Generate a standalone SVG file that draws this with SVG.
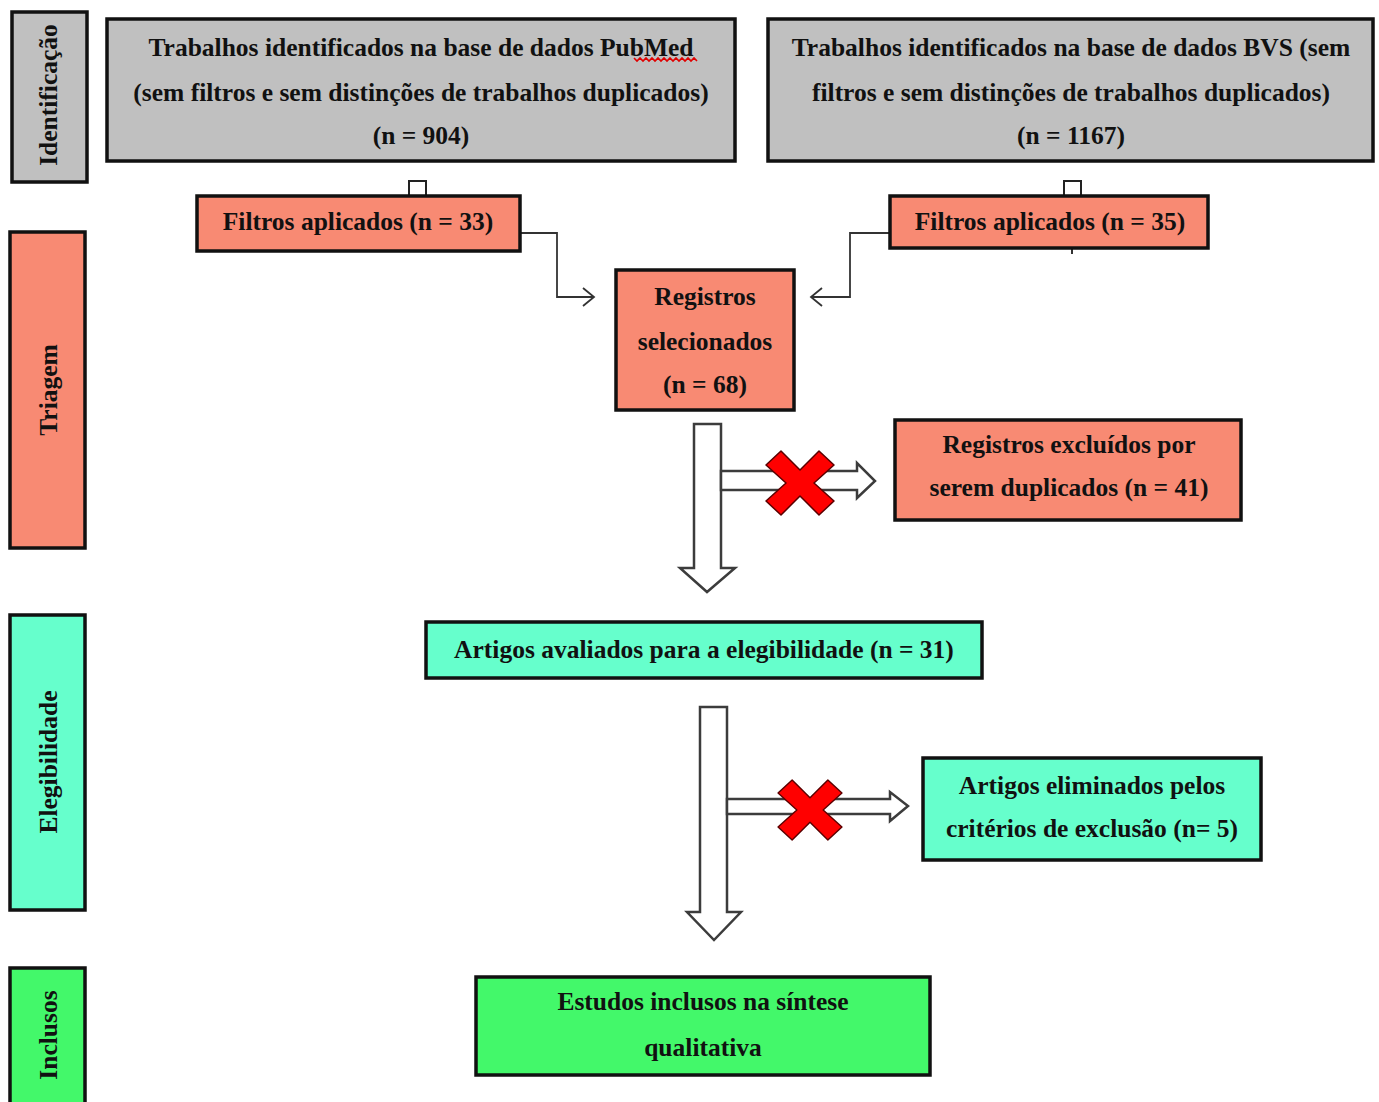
<svg xmlns="http://www.w3.org/2000/svg" width="1379" height="1102" viewBox="0 0 1379 1102">
<style>
.t{font-family:"Liberation Serif","Times New Roman",serif;font-weight:bold;font-size:25.5px;fill:#111;text-anchor:middle}
.box{stroke:#111;stroke-width:3.5}
.gray{fill:#c0c0c0}
.sal{fill:#f88a73}
.aqua{fill:#66ffcc}
.grn{fill:#43f86a}
.hollow{fill:#fff;stroke:#3c3c3c;stroke-width:2.5;stroke-linejoin:miter}
.thin{fill:none;stroke:#333;stroke-width:1.8}
.xm{fill:#ff0000;stroke:#5a0000;stroke-width:1.5;stroke-linejoin:round}
</style>
<defs>
<path id="xmark" d="M-34,-18 L-19,-32 L0,-13 L19,-32 L34,-18 L14,0 L34,18 L19,32 L0,13 L-19,32 L-34,18 L-14,0 Z"/>
</defs>
<rect width="1379" height="1102" fill="#fff"/>

<g id="stage-identificacao">
<rect class="box gray" x="12" y="12" width="75" height="170"/>
<text class="t" transform="translate(57,95) rotate(-90)">Identificação</text>
</g>
<g id="stage-triagem">
<rect class="box sal" x="10" y="232" width="75" height="316"/>
<text class="t" transform="translate(57,390) rotate(-90)">Triagem</text>
</g>
<g id="stage-elegibilidade">
<rect class="box aqua" x="10" y="615" width="75" height="295"/>
<text class="t" transform="translate(57,762) rotate(-90)">Elegibilidade</text>
</g>
<g id="stage-inclusos">
<rect class="box grn" x="10" y="968" width="75" height="150"/>
<text class="t" transform="translate(57,1035) rotate(-90)">Inclusos</text>
</g>

<g id="connectors">
<rect x="409" y="181" width="17" height="16" fill="#fff" stroke="#222" stroke-width="2"/>
<rect x="1064" y="181" width="17" height="16" fill="#fff" stroke="#222" stroke-width="2"/>
<line x1="1072" y1="248" x2="1072" y2="254" stroke="#333" stroke-width="2"/>
<polyline class="thin" points="520,233 557,233 557,297 594,297"/>
<polyline class="thin" points="583,288 594,297 583,306"/>
<polyline class="thin" points="890,233 850,233 850,297 811,297"/>
<polyline class="thin" points="822,288 811,297 822,306"/>
<path class="hollow" d="M694,424 L721,424 L721,568 L735,568 L707,592 L680,568 L694,568 Z"/>
<path class="hollow" d="M721,471 L857,471 L857,463 L875,481 L857,498 L857,490 L721,490 Z"/>
<use href="#xmark" class="xm" transform="translate(800,483)"/>
<path class="hollow" d="M700,707 L727,707 L727,912 L741,912 L714,940 L687,912 L700,912 Z"/>
<path class="hollow" d="M727,799 L890,799 L890,792 L908,806 L890,821 L890,814 L727,814 Z"/>
<use href="#xmark" class="xm" transform="translate(810,810) scale(0.94)"/>
</g>

<g id="node-pubmed">
<rect class="box gray" x="107" y="19" width="628" height="142"/>
<text class="t" x="421" y="56">Trabalhos identificados na base de dados PubMed</text>
<text class="t" x="421" y="101">(sem filtros e sem distinções de trabalhos duplicados)</text>
<text class="t" x="421" y="144">(n = 904)</text>
<polyline points="634,58 637,61 640,58 643,61 646,58 649,61 652,58 655,61 658,58 661,61 664,58 667,61 670,58 673,61 676,58 679,61 682,58 685,61 688,58 691,61 694,58 697,61" fill="none" stroke="#e00000" stroke-width="1.6"/>
</g>
<g id="node-bvs">
<rect class="box gray" x="768" y="19" width="605" height="142"/>
<text class="t" x="1071" y="56">Trabalhos identificados na base de dados BVS (sem</text>
<text class="t" x="1071" y="101">filtros e sem distinções de trabalhos duplicados)</text>
<text class="t" x="1071" y="144">(n = 1167)</text>
</g>
<g id="node-filtros-pubmed">
<rect class="box sal" x="197" y="196" width="323" height="55"/>
<text class="t" x="358" y="230">Filtros aplicados (n = 33)</text>
</g>
<g id="node-filtros-bvs">
<rect class="box sal" x="890" y="196" width="318" height="52"/>
<text class="t" x="1050" y="230">Filtros aplicados (n = 35)</text>
</g>
<g id="node-registros-selecionados">
<rect class="box sal" x="616" y="270" width="178" height="140"/>
<text class="t" x="705" y="305">Registros</text>
<text class="t" x="705" y="350">selecionados</text>
<text class="t" x="705" y="393">(n = 68)</text>
</g>
<g id="node-registros-excluidos">
<rect class="box sal" x="895" y="420" width="346" height="100"/>
<text class="t" x="1069" y="453">Registros excluídos por</text>
<text class="t" x="1069" y="496">serem duplicados (n = 41)</text>
</g>
<g id="node-artigos-avaliados">
<rect class="box aqua" x="426" y="622" width="556" height="56"/>
<text class="t" x="704" y="658">Artigos avaliados para a elegibilidade (n = 31)</text>
</g>
<g id="node-artigos-eliminados">
<rect class="box aqua" x="923" y="758" width="338" height="102"/>
<text class="t" x="1092" y="794">Artigos eliminados pelos</text>
<text class="t" x="1092" y="837">critérios de exclusão (n= 5)</text>
</g>
<g id="node-estudos-inclusos">
<rect class="box grn" x="476" y="977" width="454" height="98"/>
<text class="t" x="703" y="1010">Estudos inclusos na síntese</text>
<text class="t" x="703" y="1056">qualitativa</text>
</g>
</svg>
